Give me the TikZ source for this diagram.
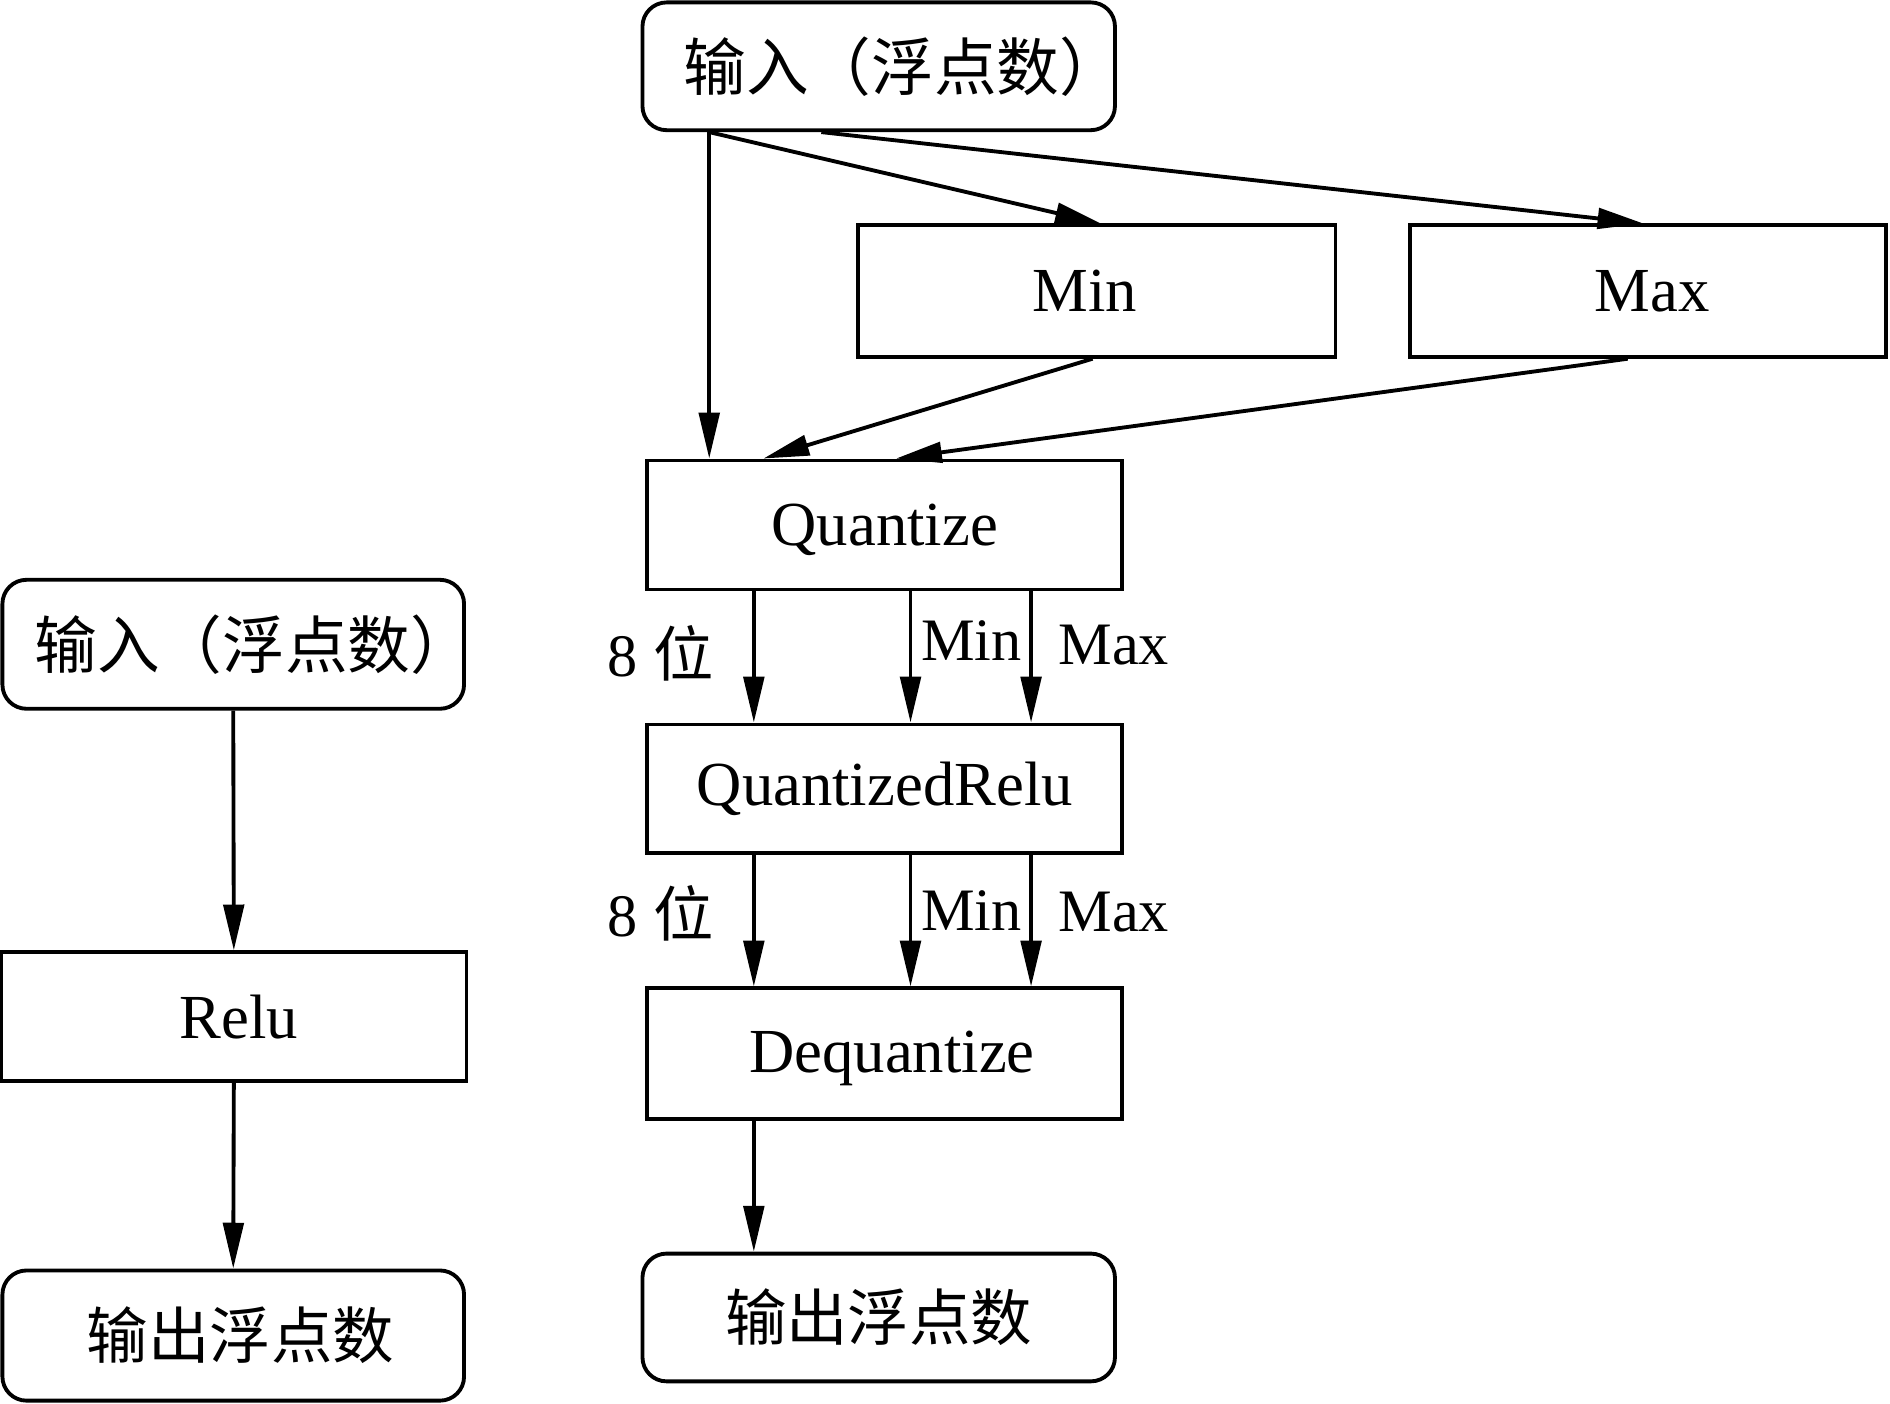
\documentclass[tikz,border=0pt]{standalone}
\usepackage{fontspec}
\setmainfont{Liberation Serif}
\newfontfamily\cjk{Noto Sans CJK SC}
\usetikzlibrary{arrows.meta,calc}
\tikzset{
  box/.style={draw, line width=1.6pt, inner sep=0pt, font=\fontsize{26}{30}\selectfont},
  rbox/.style={box, rounded corners=10pt},
  lab/.style={inner sep=0pt, font=\fontsize{25}{30}\selectfont},
  arr/.style={line width=1.6pt, -{Triangle[length=19pt,width=8.5pt]}},
}
\newcommand{\lowered}[1]{\raisebox{-2pt}[\height][\depth]{#1}}
\begin{document}
\begin{tikzpicture}[x=0.5pt,y=-0.5pt]
\useasboundingbox (0,0) rectangle (1568,1164);
% right column
\node[rbox, minimum width=196pt, minimum height=53pt] (in2) at (729,55) {\makebox[0pt]{\hspace*{20pt}\cjk 输入（浮点数）}};
\node[box, minimum width=198pt, minimum height=54.5pt] (min) at (910,241.5) {\makebox[0pt]{\hspace*{-10pt}Min}};
\node[box, minimum width=197.5pt, minimum height=54.5pt] (max) at (1367.5,241.5) {\makebox[0pt]{\hspace*{3pt}Max}};
\node[box, minimum width=197pt, minimum height=53.5pt] (q) at (734,435.5) {\lowered{Quantize}};
\node[box, minimum width=197pt, minimum height=53.5pt] (qr) at (734,654.5) {QuantizedRelu};
\node[box, minimum width=197pt, minimum height=54pt] (dq) at (734,874) {\hspace*{6pt}\lowered{Dequantize}};
\node[rbox, minimum width=196pt, minimum height=53pt, font=\fontsize{25.5}{30}\selectfont] (out2) at (729,1093) {\cjk 输出浮点数};
% left column
\node[rbox, minimum width=191.5pt, minimum height=53.5pt] (in1) at (193.5,534.5) {\makebox[0pt]{\hspace*{17pt}\cjk 输入（浮点数）}};
\node[box, minimum width=193pt, minimum height=53.5pt] (relu) at (194,843.5) {\hspace*{4pt}Relu};
\node[rbox, minimum width=191.5pt, minimum height=54pt, font=\fontsize{25.5}{30}\selectfont] (out1) at (193.5,1108) {\hspace*{6pt}\cjk 输出浮点数};
% labels
\node[lab] (l1a) at (548,542) {8 {\cjk 位}};
\node[lab] (l1b) at (806,531) {Min};
\node[lab] (l1c) at (924,535) {Max};
\node[lab] (l2a) at (548,758) {8 {\cjk 位}};
\node[lab] (l2b) at (806,755) {Min};
\node[lab] (l2c) at (924,757) {Max};
% arrows
\draw[arr] ($(in2.south west)+(57,0)$) -- ($(q.north west)+(53,0)$);
\draw[arr] ($(in2.south west)+(57,0)$) -- ($(min.north west)+(203,0)$);
\draw[arr] ($(in2.south west)+(150,0)$) -- ($(max.north west)+(195,0)$);
\draw[arr] ($(min.south west)+(196,0)$) -- ($(q.north west)+(98,0)$);
\draw[arr] ($(max.south west)+(182,0)$) -- ($(q.north west)+(208,0)$);
\foreach \dx in {90,220,320}{
  \draw[arr] ($(q.south west)+(\dx,0)$) -- ($(qr.north west)+(\dx,0)$);
  \draw[arr] ($(qr.south west)+(\dx,0)$) -- ($(dq.north west)+(\dx,0)$);
}
\draw[arr] ($(dq.south west)+(90,0)$) -- ($(out2.north west)+(94,0)$);
\draw[arr] (in1.south) -- (relu.north);
\draw[arr] (relu.south) -- (out1.north);
\end{tikzpicture}
\end{document}
